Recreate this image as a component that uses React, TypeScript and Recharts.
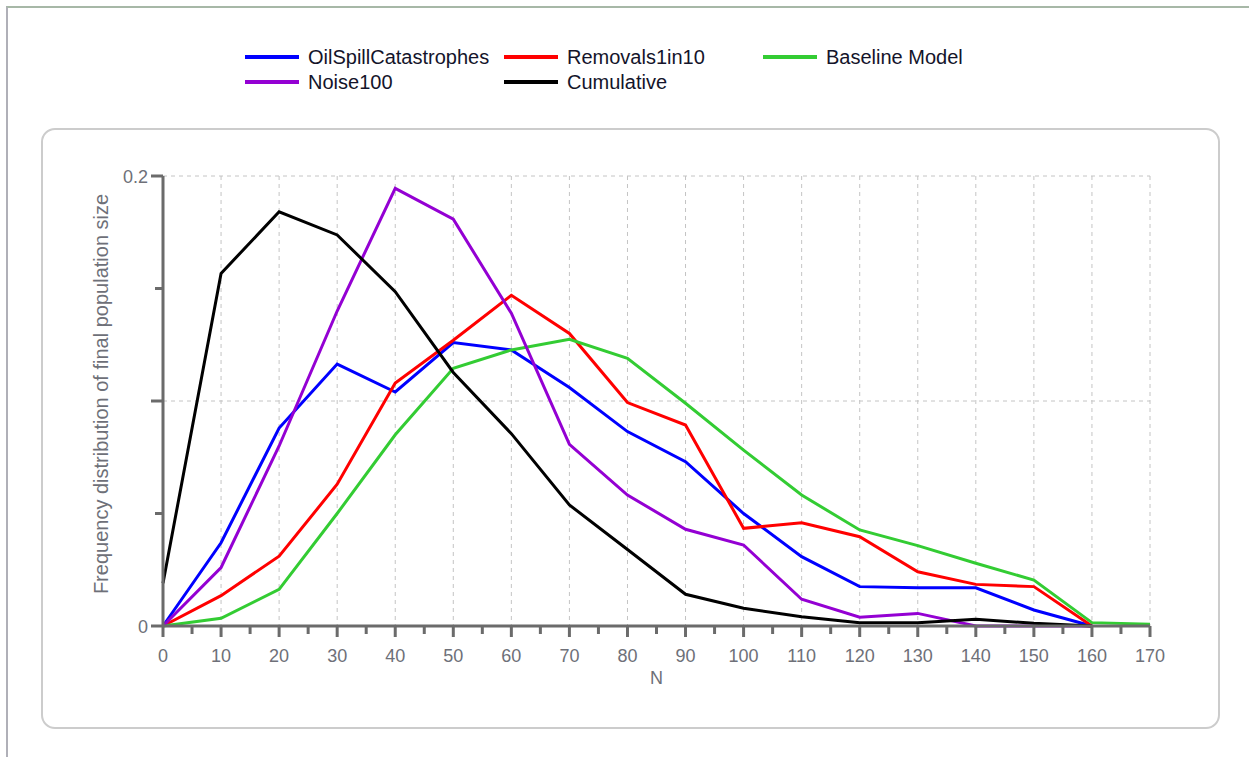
import { LineChart, Line, XAxis, YAxis, CartesianGrid } from 'recharts';

// Population size bins (N)
const nValues = [0, 10, 20, 30, 40, 50, 60, 70, 80, 90, 100, 110, 120, 130, 140, 150, 160, 170];

// Frequency distribution of final population size, one value per bin
const oilSpill = [0, 0.037, 0.088, 0.1164, 0.104, 0.126, 0.1227, 0.106, 0.0864, 0.073, 0.05, 0.0308, 0.0175, 0.017, 0.017, 0.0071, 0, null];
const removals = [0, 0.0135, 0.031, 0.063, 0.108, 0.127, 0.147, 0.13, 0.0993, 0.0893, 0.0434, 0.0459, 0.0397, 0.0241, 0.0185, 0.0175, 0, null];
const baseline = [0, 0.0034, 0.0163, 0.05, 0.085, 0.1145, 0.1227, 0.1274, 0.119, 0.099, 0.0782, 0.0582, 0.0427, 0.0357, 0.0279, 0.0204, 0.0015, 0.0008];
const noise = [0, 0.026, 0.08, 0.14, 0.1945, 0.1808, 0.139, 0.0807, 0.0582, 0.043, 0.036, 0.0119, 0.0039, 0.0056, 0, 0, 0, null];
const cumulative = [0.019, 0.1567, 0.1841, 0.1738, 0.1486, 0.1127, 0.0855, 0.0538, 0.034, 0.0141, 0.0079, 0.0041, 0.0015, 0.0015, 0.003, 0.0012, 0, null];

const xTicks = [0, 5, 10, 15, 20, 25, 30, 35, 40, 45, 50, 55, 60, 65, 70, 75, 80, 85, 90, 95, 100, 105, 110, 115, 120, 125, 130, 135, 140, 145, 150, 155, 160, 165, 170];
const xGrid = [10, 20, 30, 40, 50, 60, 70, 80, 90, 100, 110, 120, 130, 140, 150, 160, 170];
const yTicks = [0, 0.05, 0.1, 0.15, 0.2];
const yGrid = [0.1, 0.2];
const yLabelled = [0, 0.2];
const X_DOMAIN = [0, 170];
const Y_DOMAIN = [0, 0.2];

const series = [
  { key: 'oilSpill', name: 'OilSpillCatastrophes', color: '#0000ff', values: oilSpill },
  { key: 'removals', name: 'Removals1in10', color: '#ff0000', values: removals },
  { key: 'baseline', name: 'Baseline Model', color: '#33cc33', values: baseline },
  { key: 'noise', name: 'Noise100', color: '#9400d3', values: noise },
  { key: 'cumulative', name: 'Cumulative', color: '#000000', values: cumulative },
];

const data = nValues.map((n, i) => {
  const row: Record<string, number | null> = { n };
  series.forEach((s) => {
    row[s.key] = s.values[i];
  });
  return row;
});

const AXIS = '#6b6b6b';
const LABEL = '#6e7078';
const FONT = '"Liberation Sans", Arial, sans-serif';

const XTick = (props: any) => {
  const { x, y, payload } = props;
  const major = payload.value % 10 === 0;
  return (
    <g>
      <line x1={x} x2={x} y1={y} y2={y + (major ? 11 : 8)} stroke={AXIS} strokeWidth={3} />
      {major && (
        <text x={x} y={y + 36} textAnchor="middle" fill={LABEL} fontSize={18} fontFamily={FONT}>
          {payload.value}
        </text>
      )}
    </g>
  );
};

const YTick = (props: any) => {
  const { x, y, payload } = props;
  const major = Math.round(payload.value * 100) % 10 === 0;
  const labelled = yLabelled.includes(payload.value);
  return (
    <g>
      <line x1={x - (major ? 12 : 8)} x2={x} y1={y} y2={y} stroke={AXIS} strokeWidth={3} />
      {labelled && (
        <text x={x - 15} y={y + 7} textAnchor="end" fill={LABEL} fontSize={18} fontFamily={FONT}>
          {payload.value}
        </text>
      )}
    </g>
  );
};

const legendCols = [245, 504, 763];
const legendRows = [57, 82];

function ChartLegend() {
  return (
    <>
      {series.map((s, i) => {
        const left = legendCols[i % 3];
        const top = legendRows[Math.floor(i / 3)];
        return (
          <div key={s.key} style={{ position: 'absolute', left, top: top - 12, height: 24, display: 'flex', alignItems: 'center' }}>
            <div style={{ width: 54, height: 4, background: s.color }} />
            <span style={{ marginLeft: 9, fontSize: 20, fontFamily: FONT, color: '#14142a', whiteSpace: 'nowrap' }}>{s.name}</span>
          </div>
        );
      })}
    </>
  );
}

export default function App() {
  return (
    <div style={{ position: 'relative', width: 1249, height: 757, background: '#fff', overflow: 'hidden' }}>
      <style>{'body { margin: 0; }'}</style>
      {/* window frame */}
      <div style={{ position: 'absolute', left: 6, top: 6, right: -4, bottom: -4, borderTop: '2px solid #a7b8a7', borderLeft: '2px solid #b0b0b8' }} />
      {/* chart panel */}
      <div style={{ position: 'absolute', left: 41, top: 128, width: 1175, height: 597, border: '2px solid #cccccc', borderRadius: 14 }} />
      <ChartLegend />
      <div style={{ position: 'absolute', left: 0, top: 0 }}>
        <LineChart width={1249} height={757} data={data} margin={{ top: 176, right: 99, bottom: 71, left: 103 }}>
          <CartesianGrid
            stroke="#c4c4c4"
            strokeDasharray="4 4"
            verticalCoordinatesGenerator={({ offset }: any) =>
              xGrid.map((v) => offset.left + ((v - X_DOMAIN[0]) / (X_DOMAIN[1] - X_DOMAIN[0])) * offset.width)
            }
            horizontalCoordinatesGenerator={({ offset }: any) =>
              yGrid.map((v) => offset.top + offset.height - ((v - Y_DOMAIN[0]) / (Y_DOMAIN[1] - Y_DOMAIN[0])) * offset.height)
            }
          />
          <XAxis
            type="number"
            dataKey="n"
            domain={X_DOMAIN}
            ticks={xTicks}
            interval={0}
            height={60}
            tickSize={0}
            tickMargin={0}
            tickLine={false}
            axisLine={{ stroke: AXIS, strokeWidth: 3 }}
            tick={<XTick />}
            label={{
              content: ({ viewBox }: any) => (
                <text x={viewBox.x + viewBox.width / 2} y={viewBox.y + 58} textAnchor="middle" fill={LABEL} fontSize={18} fontFamily={FONT}>
                  N
                </text>
              ),
            }}
          />
          <YAxis
            type="number"
            domain={Y_DOMAIN}
            ticks={yTicks}
            interval={0}
            width={60}
            tickSize={0}
            tickMargin={0}
            tickLine={false}
            axisLine={{ stroke: AXIS, strokeWidth: 3 }}
            tick={<YTick />}
            label={{
              content: ({ viewBox }: any) => {
                const cx = viewBox.x + 5;
                const cy = viewBox.y + viewBox.height / 2 - 7;
                return (
                  <text x={cx} y={cy} transform={`rotate(-90 ${cx} ${cy})`} textAnchor="middle" fill={LABEL} fontSize={20} fontFamily={FONT}>
                    Frequency distribution of final population size
                  </text>
                );
              },
            }}
          />
          {series.map((s) => (
            <Line
              key={s.key}
              type="linear"
              dataKey={s.key}
              name={s.name}
              stroke={s.color}
              strokeWidth={3}
              dot={false}
              activeDot={false}
              isAnimationActive={false}
            />
          ))}
        </LineChart>
      </div>
    </div>
  );
}
